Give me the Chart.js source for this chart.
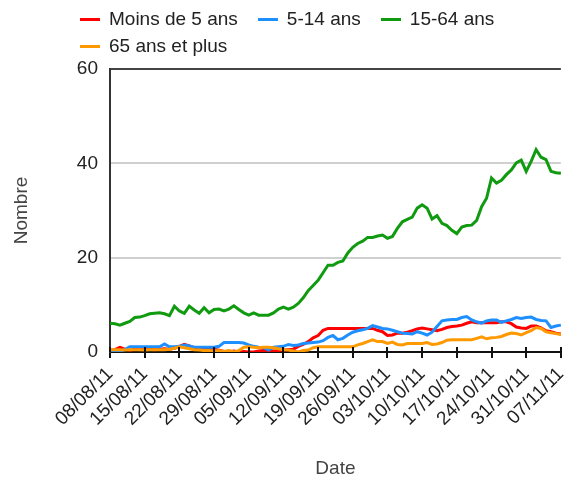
<!DOCTYPE html>
<html>
<head>
<meta charset="utf-8">
<script src="https://cdn.jsdelivr.net/npm/chart.js@4/dist/chart.umd.min.js"></script>
<style>
  html, body { margin: 0; padding: 0; background: #fff; }
  #wrap { position: relative; width: 582px; height: 480px; font-family: Arial, "Liberation Sans", sans-serif; }
  #chart { position: absolute; left: 0; top: 0; }
  .legend-row { position: absolute; left: 80px; display: flex; align-items: center; height: 20px; }
  .legend-item { display: flex; align-items: center; margin-right: 20px; font-size: 19px; color: #222; white-space: nowrap; }
  .legend-item i { display: inline-block; width: 20px; height: 3px; margin-right: 9px; }
</style>
</head>
<body>
<div id="wrap">
  <canvas id="chart" width="582" height="480"></canvas>
  <div class="legend-row" id="row1" style="top:9px"></div>
  <div class="legend-row" id="row2" style="top:36px"></div>
</div>
<script>
// ─── Data ─────────────────────────────────────────────────────────────────────
// one value per day, 08/08/11 → 07/11/11
const tickLabels = ['08/08/11','15/08/11','22/08/11','29/08/11','05/09/11','12/09/11','19/09/11',
                    '26/09/11','03/10/11','10/10/11','17/10/11','24/10/11','31/10/11','07/11/11'];

const seriesNames = ['Moins de 5 ans', '5-14 ans', '15-64 ans', '65 ans et plus'];
const seriesColors = ['#ff0000', '#1e8fff', '#109a10', '#ff9900'];

const under5 = [
  0.3,0.5,1.0,0.6,0.4,0.6,0.5,0.7,0.6,0.5,
  0.6,0.7,0.6,0.8,1.2,1.6,1.3,0.9,0.8,0.8,
  0.7,0.6,0.4,0.1,0.0,0.2,0.0,0.1,0.0,0.0,
  0.2,0.3,0.3,0.2,0.3,0.4,0.5,0.6,1.2,1.6,
  2.2,3.0,3.5,4.6,5.0,5.0,5.0,5.0,5.0,5.0,
  5.0,5.0,5.0,5.0,4.6,4.3,3.5,3.6,4.0,4.0,
  4.2,4.5,4.9,5.1,4.9,4.7,4.5,4.8,5.2,5.4,
  5.5,5.7,6.1,6.4,6.2,6.2,6.2,6.2,6.2,6.4,
  6.4,6.0,5.3,5.1,5.0,5.5,5.5,5.1,4.5,4.3,
  4.0,3.8
];
const age5to14 = [
  0.2,0.2,0.2,0.5,1.1,1.1,1.1,1.1,1.1,1.1,
  1.1,1.7,1.1,1.1,1.2,1.5,1.3,1.0,1.0,1.0,
  1.0,1.0,1.2,2.0,2.0,2.0,2.0,1.9,1.5,1.2,
  1.0,0.9,0.4,1.0,1.1,1.2,1.6,1.4,1.5,1.8,
  1.9,2.0,2.1,2.4,3.1,3.5,2.6,2.9,3.6,4.2,
  4.5,4.7,5.0,5.6,5.3,5.0,4.9,4.6,4.3,4.0,
  3.9,3.8,4.3,4.0,3.6,4.2,5.4,6.6,6.8,6.9,
  6.9,7.3,7.5,6.8,6.4,6.1,6.6,6.8,6.8,6.3,
  6.6,6.9,7.3,7.1,7.3,7.4,6.9,6.7,6.6,5.2,
  5.5,5.7
];
const age15to64 = [
  6.1,6.0,5.7,6.1,6.5,7.3,7.4,7.7,8.1,8.2,
  8.3,8.1,7.7,9.7,8.7,8.2,9.7,8.9,8.2,9.4,
  8.3,9.0,9.1,8.7,9.1,9.8,9.0,8.3,7.8,8.3,
  7.8,7.8,7.8,8.3,9.1,9.5,9.1,9.5,10.3,11.5,
  13.0,14.1,15.2,16.8,18.4,18.4,19.0,19.3,21.0,22.2,
  23.0,23.5,24.3,24.3,24.6,24.8,24.1,24.5,26.2,27.6,
  28.1,28.6,30.5,31.2,30.5,28.2,28.9,27.3,26.8,25.8,
  25.1,26.5,26.8,26.9,27.9,30.8,32.6,36.9,35.8,36.4,
  37.6,38.6,40.1,40.7,38.3,40.4,42.9,41.3,40.8,38.3,
  38.0,37.9
];
const over65 = [
  0.5,0.5,0.5,0.4,0.5,0.5,0.5,0.4,0.5,0.5,
  0.5,0.5,0.6,0.8,1.1,0.9,0.7,0.5,0.4,0.3,
  0.3,0.2,0.3,0.1,0.3,0.0,0.3,1.0,1.1,1.0,
  0.9,1.0,1.0,0.9,0.7,0.5,0.4,0.2,0.0,0.3,
  0.4,0.9,1.1,1.1,1.1,1.1,1.1,1.1,1.1,1.1,
  1.5,1.8,2.2,2.6,2.2,2.2,1.8,2.1,1.6,1.5,
  1.8,1.8,1.8,1.8,2.0,1.6,1.7,2.0,2.5,2.6,
  2.6,2.6,2.6,2.6,2.9,3.2,2.8,3.0,3.1,3.3,
  3.7,4.0,3.9,3.6,4.1,4.5,5.2,5.0,4.3,4.1,
  3.9,3.7
];

const allSeries = [under5, age5to14, age15to64, over65];
const drawOrder = [4, 3, 2, 1]; // orange on top, like the original

// ─── Legend (HTML, left aligned) ─────────────────────────────────────────────
seriesNames.forEach((name, i) => {
  const row = document.getElementById(i < 3 ? 'row1' : 'row2');
  const item = document.createElement('span');
  item.className = 'legend-item';
  item.innerHTML = `<i style="background:${seriesColors[i]}"></i>${name}`;
  row.appendChild(item);
});

// tick marks that also poke above the x axis line
const crossTicks = {
  id: 'crossTicks',
  afterDraw(chart) {
    const x = chart.scales.x, ctx = chart.ctx;
    const y0 = chart.chartArea.bottom;
    ctx.save();
    ctx.strokeStyle = '#111';
    ctx.lineWidth = 2;
    x.ticks.forEach(t => {
      const px = Math.round(x.getPixelForValue(t.value));
      ctx.beginPath();
      ctx.moveTo(px, y0 - 5);
      ctx.lineTo(px, y0);
      ctx.stroke();
    });
    ctx.restore();
  }
};

const font = { family: 'Arial, "Liberation Sans", sans-serif', size: 19 };

new Chart(document.getElementById('chart'), {
  type: 'line',
  data: {
    datasets: allSeries.map((vals, i) => ({
      label: seriesNames[i],
      data: vals.map((v, d) => ({ x: d, y: v })),
      borderColor: seriesColors[i],
      backgroundColor: seriesColors[i],
      borderWidth: 3,
      pointRadius: 0,
      tension: 0,
      order: drawOrder[i],
    }))
  },
  options: {
    responsive: false,
    animation: false,
    layout: { padding: { top: 69, right: 16, left: 0, bottom: 0 } },
    plugins: { legend: { display: false }, tooltip: { enabled: false } },
    scales: {
      x: {
        type: 'linear',
        min: 0, max: 91,
        afterFit: s => { s.height = 128; },
        ticks: {
          stepSize: 7,
          autoSkip: false,
          minRotation: 45, maxRotation: 45,
          padding: 5,
          color: '#222',
          font,
          callback: v => tickLabels[v / 7],
        },
        grid: { drawOnChartArea: false, tickLength: 6, color: '#111', lineWidth: 2 },
        border: { color: '#111', width: 2 },
        title: { display: true, text: 'Date', color: '#444', font, padding: { top: 3, bottom: 0 } },
      },
      y: {
        min: 0, max: 60,
        afterFit: s => { s.width = 110; },
        ticks: { stepSize: 20, padding: 12, color: '#222', font },
        grid: {
          drawTicks: false,
          lineWidth: 2,
          color: c => c.tick.value === 60 ? '#444' : (c.tick.value === 0 ? '#111' : '#d0d0d0'),
        },
        border: { color: '#333', width: 2 },
        title: { display: true, text: 'Nombre', color: '#444', font, padding: { top: 10, bottom: 0 } },
      }
    }
  },
  plugins: [crossTicks]
});
</script>
</body>
</html>
